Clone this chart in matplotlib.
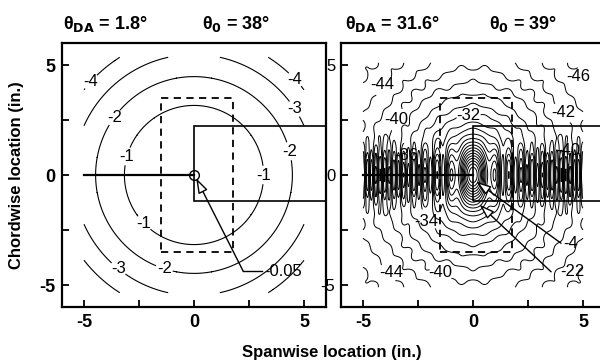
import numpy as np
import matplotlib
matplotlib.use("Agg")
import matplotlib.pyplot as plt
from matplotlib.patches import Rectangle

plt.rcParams['font.family'] = ['Liberation Sans', 'DejaVu Sans']
plt.rcParams['mathtext.default'] = 'regular'
plt.rcParams['contour.negative_linestyle'] = 'solid'

# header values
theta_da = ['1.8', '31.6']
theta_0 = ['38', '39']

# left panel: levels and where their labels sit
left_levels = [-4, -3, -2, -1]
left_labels = [(-4, (-4.65, 4.2)), (-4, (4.6, 4.35)), (-3, (4.5, 2.95)),
               (-3, (-3.45, -4.28)), (-2, (-3.6, 2.6)), (-2, (4.36, 1.09)),
               (-2, (-1.39, -4.4)), (-1, (-2.98, 0.83)), (-1, (3.15, 0.0)),
               (-1, (-2.38, -2.3))]
left_r2_per_level = 10.0      # level ~ -r^2 / 10
left_center_text = '-0.05'

# right panel
right_levels = [-46, -44, -42, -40, -38, -36, -34, -32, -30, -28, -26, -24,
                -22, -20, -18, -16, -14, -12, -10, -8, -6, -4]
right_labels = [(-44, (-4.57, 4.36)), (-44, (-3.5, -4.35)), (-46, (4.6, 4.44)),
                (-42, (4.44, 2.92)), (-40, (-3.5, 2.6)), (-40, (-1.32, -4.35)),
                (-40, (4.37, 1.1)), (-36, (-2.98, 0.88)), (-34, (-2.3, -2.34)),
                (-32, (-0.18, 2.88))]
right_arrow_texts = ['-4', '-22']
# far-field decay, central peak and fringe band of the right field
far_level, far_slope, x_squash = -16.0, 15.0, 0.85
peak_height, peak_sx, peak_sy = 14.0, 0.5, 1.2
fringe_amp, fringe_pow, fringe_len, band_half = 6.0, 1.4, 1.0, 1.15
ripple_amp, ripple_len = 0.5, 1.1

# probe outlines
dash_box = (-1.5, -3.5, 3.25, 7.0)
solid_box = (0.0, -1.2, 8.0, 3.45)
probe_line = ([-5, 0], [0, 0])


def draw_levels(ax, X, Y, Z, levels, labels, lw):
    texts = []
    for lv in levels:
        cs = ax.contour(X, Y, Z, levels=[lv], colors='black', linewidths=lw,
                        linestyles='solid')
        pts = [p for l, p in labels if l == lv]
        if pts:
            texts += ax.clabel(cs, manual=pts, fmt='%d', fontsize=12,
                               inline=True, inline_spacing=3)
    for t in texts:
        t.set_rotation(0)


fig = plt.figure(figsize=(6, 3.62), dpi=100)
axL = fig.add_axes([62 / 600, 55 / 362, 264 / 600, 264 / 362])
axR = fig.add_axes([341 / 600, 55 / 362, 264 / 600, 264 / 362])

# left field
xl = np.linspace(-5, 5, 401)
yl = np.linspace(-5.35, 5.35, 429)
XL, YL = np.meshgrid(xl, yl)
ZL = -(XL ** 2 + YL ** 2) / left_r2_per_level
draw_levels(axL, XL, YL, ZL, left_levels, left_labels, 0.8)

# right field
xr = np.linspace(-5, 5, 801)
yr = np.linspace(-5.1, 5.1, 409)
XR, YR = np.meshgrid(xr, yr)
rho = np.sqrt((XR / x_squash) ** 2 + YR ** 2)
ZR = far_level - far_slope * np.log(np.sqrt(rho ** 2 + 1))
ZR += peak_height * np.exp(-((XR / peak_sx) ** 2 + (YR / peak_sy) ** 2))
ZR += (fringe_amp * np.cos(2 * np.pi * np.abs(XR) ** fringe_pow / fringe_len)
       * np.exp(-(YR / band_half) ** 2) * (1 - np.exp(-(XR / 0.8) ** 2)))
ZR += (ripple_amp * np.cos(2 * np.pi * XR / ripple_len)
       * np.cos(2 * np.pi * YR / ripple_len) * (1 - np.exp(-(rho / 2.5) ** 2)))
draw_levels(axR, XR, YR, ZR, right_levels, right_labels, 0.7)

for ax in (axL, axR):
    ax.add_patch(Rectangle(dash_box[:2], dash_box[2], dash_box[3], fill=False,
                           ec='black', lw=1.3, ls=(0, (4, 3)), zorder=3))
    ax.add_patch(Rectangle(solid_box[:2], solid_box[2], solid_box[3], fill=False,
                           ec='black', lw=1.2, zorder=3))
    ax.plot(*probe_line, color='black', lw=1.6, zorder=3)
    ax.set_xlim(-6, 6)
    ax.set_ylim(-6, 6)
    ax.set_xticks([-5, -2.5, 0, 2.5, 5])
    ax.set_xticklabels(['-5', '', '0', '', '5'], fontweight='bold', fontsize=13)
    ax.set_yticks([-5, -2.5, 0, 2.5, 5])
    ax.tick_params(direction='in', length=5, width=1.3, pad=5)
    for s in ax.spines.values():
        s.set_linewidth(1.6)

axL.set_yticklabels(['-5', '', '0', '', '5'], fontweight='bold', fontsize=13)
axR.set_yticklabels(['-5', '', '0', '', '5'], fontsize=12)
axR.tick_params(axis='y', pad=4)

# centre marker and arrows
axL.plot([0], [0], 'o', ms=7, mfc='none', mec='black', mew=1.0, zorder=4)
axL.plot([2.24, 3.1], [-4.38, -4.38], color='black', lw=1.0)
axL.annotate('', xy=(0.1, -0.15), xytext=(2.24, -4.38),
             arrowprops=dict(arrowstyle='-|>,head_length=0.9,head_width=0.3',
                             fc='white', ec='black', lw=1.0, shrinkA=0, shrinkB=0), zorder=5)
axL.text(3.2, -4.38, left_center_text, fontsize=12, va='center', ha='left')

axR.annotate('', xy=(0.15, -0.3), xytext=(4.0, -3.1),
             arrowprops=dict(arrowstyle='-|>,head_length=0.9,head_width=0.3',
                             fc='white', ec='black', lw=1.0, shrinkA=0, shrinkB=0), zorder=5)
axR.annotate('', xy=(0.3, -1.35), xytext=(3.55, -4.4),
             arrowprops=dict(arrowstyle='-|>,head_length=0.9,head_width=0.3',
                             fc='white', ec='black', lw=1.0, shrinkA=0, shrinkB=0), zorder=5)
axR.text(4.1, -3.1, right_arrow_texts[0], fontsize=12, va='center', ha='left')
axR.text(3.95, -4.4, right_arrow_texts[1], fontsize=12, va='center', ha='left')

# headers
hx = [(63, 202), (345, 489)]
for (x1, x2), da, t0 in zip(hx, theta_da, theta_0):
    fig.text(x1 / 600, 1 - 24 / 362, r'$\theta_{\mathbf{DA}}$ = ' + da + '°',
             fontsize=13, fontweight='bold', va='center')
    fig.text(x2 / 600, 1 - 24 / 362, r'$\theta_{\mathbf{0}}$ = ' + t0 + '°',
             fontsize=13, fontweight='bold', va='center')

fig.text(332 / 600, 1 - 352 / 362, 'Spanwise location (in.)', fontsize=12,
         fontweight='bold', ha='center', va='center')
fig.text(17 / 600, 1 - 175 / 362, 'Chordwise location (in.)', fontsize=12,
         fontweight='bold', ha='center', va='center', rotation=90)

fig.savefig('out.png', dpi=100)
